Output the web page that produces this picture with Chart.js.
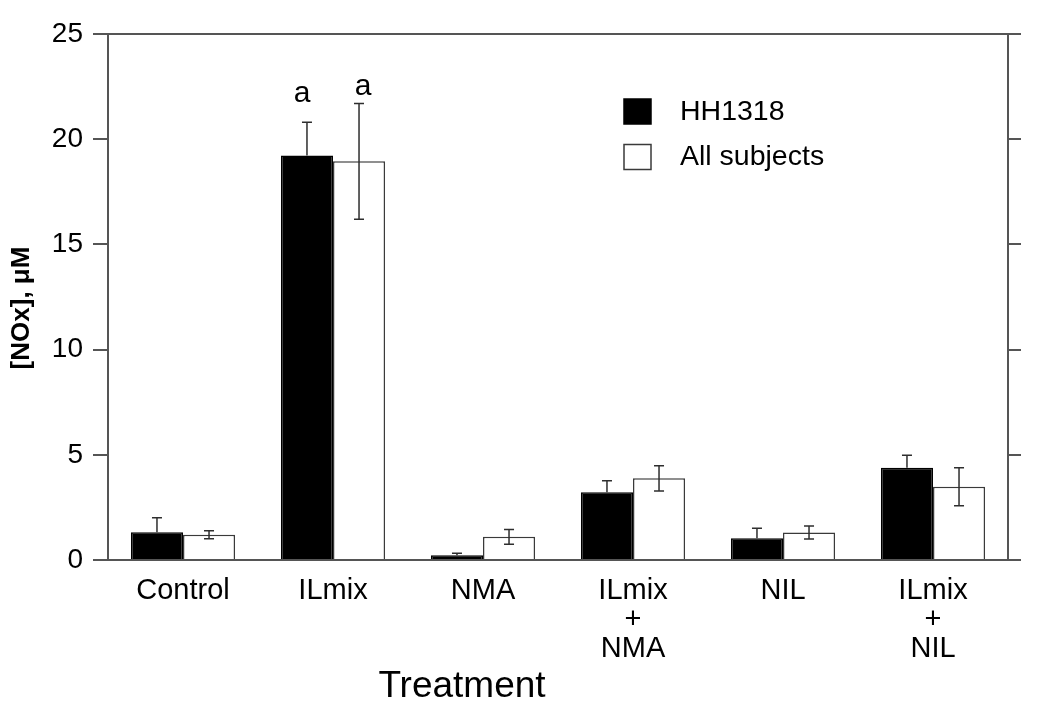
<!DOCTYPE html>
<html><head><meta charset="utf-8">
<script src="https://cdn.jsdelivr.net/npm/chart.js@4.4.1/dist/chart.umd.min.js"></script>
<style>html,body{margin:0;padding:0;background:#fff;} canvas{display:block;}</style>
</head><body>
<canvas id="c" width="1041" height="714"></canvas>
<script>
const categories = ['Control', 'ILmix', 'NMA', ['ILmix', '+', 'NMA'], 'NIL', ['ILmix', '+', 'NIL']];
const seriesNames = ['HH1318', 'All subjects'];
const hhValues = [1.32, 19.22, 0.22, 3.22, 1.03, 4.39];
const hhErrors = [0.69, 1.58, 0.10, 0.55, 0.48, 0.59];
const allValues = [1.20, 18.95, 1.10, 3.88, 1.31, 3.48];
const allErrors = [0.19, 2.75, 0.35, 0.60, 0.31, 0.90];
const hhMarks = ['', 'a', '', '', '', ''];
const allMarks = ['', 'a', '', '', '', ''];
const yTicks = [0, 5, 10, 15, 20, 25];
const xTitle = 'Treatment';
const yTitle = '[NOx], \u03bcM';

const FONT = '"Liberation Sans", Arial, Helvetica, sans-serif';
const AXIS = '#555';

const errorBars = {
  id: 'errorBars',
  afterDatasetsDraw(chart) {
    const ctx = chart.ctx, ys = chart.scales.y;
    chart.data.datasets.forEach((ds, di) => {
      const meta = chart.getDatasetMeta(di);
      meta.data.forEach((bar, i) => {
        const v = ds.data[i], e = ds.errors[i];
        const x = bar.x;
        const yt = ys.getPixelForValue(v + e), yb = ys.getPixelForValue(v - e);
        const yv = ys.getPixelForValue(v);
        ctx.save();
        ctx.strokeStyle = '#2e2e2e';
        ctx.lineWidth = 1.5;
        ctx.beginPath();
        ctx.moveTo(x, yt); ctx.lineTo(x, ds.twoSided ? yb : yv);
        ctx.moveTo(x - 5, yt); ctx.lineTo(x + 5, yt);
        if (ds.twoSided) { ctx.moveTo(x - 5, yb); ctx.lineTo(x + 5, yb); }
        ctx.stroke();
        const m = ds.marks[i];
        if (m) {
          ctx.fillStyle = '#000';
          ctx.font = '30px ' + FONT;
          ctx.textAlign = 'center';
          ctx.textBaseline = 'alphabetic';
          ctx.fillText(m, x + ds.markDx, yt - ds.markGap);
        }
        ctx.restore();
      });
    });
  }
};

const extras = {
  id: 'extras',
  afterDraw(chart) {
    const ctx = chart.ctx;
    ctx.save();
    chart.data.datasets.forEach((ds, i) => {
      const bx = 624, by = 99 + i * 45.5;
      ctx.fillStyle = ds.backgroundColor;
      ctx.fillRect(bx, by, 27, 25);
      ctx.strokeStyle = ds.borderColor;
      ctx.lineWidth = 1.5;
      ctx.strokeRect(bx, by, 27, 25);
      ctx.fillStyle = '#000';
      ctx.font = '28.5px ' + FONT;
      ctx.textAlign = 'left';
      ctx.textBaseline = 'middle';
      ctx.fillText(ds.label, 680, by + 13);
    });
    ctx.font = '37px ' + FONT;
    ctx.textAlign = 'center';
    ctx.textBaseline = 'alphabetic';
    ctx.fillText(xTitle, 462, 697);
    ctx.translate(22, 308);
    ctx.rotate(-Math.PI / 2);
    ctx.font = 'bold 26px ' + FONT;
    ctx.textBaseline = 'middle';
    ctx.fillText(yTitle, 0, 0);
    ctx.restore();
  }
};

new Chart(document.getElementById('c'), {
  type: 'bar',
  data: {
    labels: categories,
    datasets: [
      { label: seriesNames[0], data: hhValues, errors: hhErrors, marks: hhMarks, markDx: -5, markGap: 20, twoSided: false,
        backgroundColor: '#000', borderColor: '#000', borderWidth: 1.5 },
      { label: seriesNames[1], data: allValues, errors: allErrors, marks: allMarks, markDx: 4, markGap: 8, twoSided: true,
        backgroundColor: '#fff', borderColor: '#3a3a3a', borderWidth: 1.5 }
    ]
  },
  options: {
    responsive: false,
    animation: false,
    events: [],
    layout: { padding: { left: 0, right: 20, top: 34, bottom: 0 } },
    datasets: { bar: { categoryPercentage: 0.694, barPercentage: 1.0 } },
    plugins: { legend: { display: false }, tooltip: { enabled: false } },
    scales: {
      x: {
        position: 'bottom',
        grid: { display: false },
        border: { display: true, color: AXIS, width: 2 },
        ticks: { color: '#000', font: { family: FONT, size: 29, lineHeight: 1.0 }, padding: 8, maxRotation: 0, autoSkip: false },
        afterFit(s) { s.height = 154; }
      },
      x2: {
        position: 'top',
        type: 'category',
        labels: categories,
        grid: { display: false },
        border: { display: true, color: AXIS, width: 2 },
        ticks: { display: false },
        afterFit(s) { s.height = 0; }
      },
      y: {
        position: 'left',
        min: 0, max: 25,
        afterBuildTicks(s) { s.ticks = yTicks.map(v => ({ value: v })); },
        grid: { drawOnChartArea: false, drawTicks: true, tickLength: 15, color: AXIS, lineWidth: 2 },
        border: { display: true, color: AXIS, width: 2 },
        ticks: { color: '#000', font: { family: FONT, size: 28 }, padding: 10 },
        afterFit(s) { s.width = 108; }
      },
      y2: {
        position: 'right',
        min: 0, max: 25,
        afterBuildTicks(s) { s.ticks = yTicks.map(v => ({ value: v })); },
        grid: { drawOnChartArea: false, drawTicks: true, tickLength: 13, color: AXIS, lineWidth: 2 },
        border: { display: true, color: AXIS, width: 2 },
        ticks: { display: false },
        afterFit(s) { s.width = 13; }
      }
    }
  },
  plugins: [errorBars, extras]
});
</script>
</body></html>
